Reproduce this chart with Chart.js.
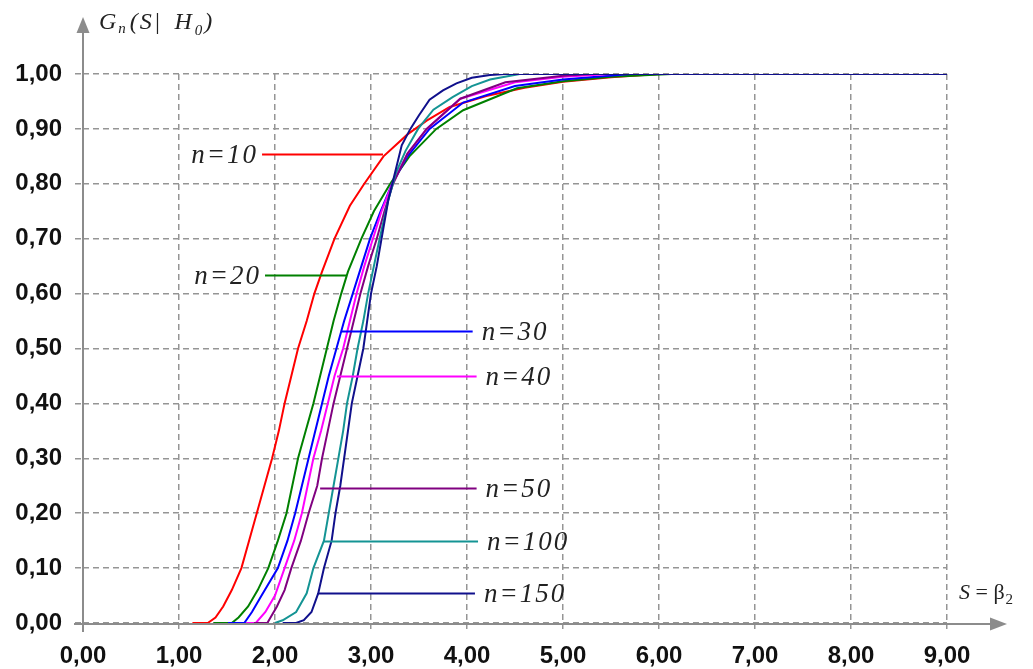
<!DOCTYPE html>
<html><head><meta charset="utf-8">
<script src="https://cdn.jsdelivr.net/npm/chart.js@4"></script>
<style>html,body{margin:0;padding:0;background:#fff;overflow:hidden}#c{display:block}</style>
</head><body>
<canvas id="c" width="1033" height="669"></canvas>
<script>
// ---- data ----
const xTicks = [0,1,2,3,4,5,6,7,8,9];
const yTicks = [0,0.1,0.2,0.3,0.4,0.5,0.6,0.7,0.8,0.9,1.0];

const n10_x = [1.14,1.30,1.38,1.46,1.55,1.65,1.73,1.81,1.89,1.97,2.04,2.10,2.17,2.24,2.33,2.41,2.49,2.62,2.78,2.93,3.13,3.38,3.58,3.82,4.20,4.60,5.00,5.50,6.00];
const n10_y = [0,0,0.01,0.03,0.06,0.10,0.15,0.20,0.25,0.30,0.35,0.40,0.45,0.50,0.55,0.60,0.64,0.70,0.76,0.80,0.85,0.89,0.915,0.94,0.96,0.975,0.986,0.994,1.0];

const n20_x = [1.36,1.55,1.62,1.72,1.82,1.93,2.03,2.12,2.18,2.24,2.32,2.40,2.47,2.54,2.61,2.69,2.76,2.90,3.03,3.20,3.40,3.68,3.96,4.52,5.00,5.50,6.13];
const n20_y = [0,0,0.01,0.03,0.06,0.10,0.15,0.20,0.25,0.30,0.35,0.40,0.45,0.50,0.55,0.60,0.64,0.70,0.75,0.80,0.85,0.90,0.934,0.974,0.987,0.995,1.0];

const n30_x = [1.51,1.68,1.76,1.86,2.03,2.13,2.21,2.28,2.35,2.42,2.49,2.56,2.64,2.72,2.81,2.90,2.99,3.10,3.22,3.38,3.61,3.96,4.50,5.00,5.70];
const n30_y = [0,0,0.02,0.05,0.10,0.15,0.20,0.25,0.30,0.35,0.40,0.45,0.50,0.55,0.60,0.65,0.70,0.75,0.80,0.85,0.90,0.948,0.978,0.990,1.0];

const n40_x = [1.70,1.80,1.90,2.00,2.10,2.20,2.28,2.34,2.40,2.48,2.55,2.62,2.71,2.78,2.85,2.93,3.02,3.11,3.22,3.38,3.58,3.93,4.50,5.00,5.50];
const n40_y = [0,0,0.02,0.05,0.10,0.15,0.20,0.25,0.30,0.35,0.40,0.45,0.50,0.55,0.60,0.65,0.70,0.75,0.80,0.855,0.90,0.955,0.985,0.995,1.0];

const n50_x = [1.78,1.92,2.02,2.10,2.17,2.27,2.35,2.44,2.49,2.55,2.61,2.68,2.75,2.82,2.89,2.97,3.06,3.14,3.23,3.38,3.58,3.93,4.40,5.00,5.30];
const n50_y = [0,0,0.03,0.06,0.10,0.15,0.20,0.25,0.30,0.35,0.40,0.45,0.50,0.55,0.60,0.65,0.70,0.75,0.80,0.855,0.90,0.955,0.985,0.997,1.0];

const n100_x = [2.00,2.08,2.22,2.33,2.40,2.51,2.56,2.61,2.66,2.71,2.75,2.81,2.86,2.92,2.97,3.03,3.09,3.18,3.26,3.36,3.49,3.65,3.85,4.05,4.24,4.55];
const n100_y = [0,0.005,0.02,0.054,0.10,0.15,0.20,0.25,0.30,0.35,0.40,0.45,0.50,0.55,0.60,0.65,0.70,0.77,0.82,0.86,0.90,0.935,0.958,0.978,0.990,1.0];

const n150_x = [2.08,2.22,2.30,2.38,2.45,2.51,2.59,2.63,2.68,2.72,2.76,2.80,2.86,2.92,2.96,3.00,3.06,3.11,3.18,3.25,3.32,3.41,3.50,3.61,3.75,3.89,4.05,4.24,4.40,9.00];
const n150_y = [0,0,0.005,0.02,0.054,0.10,0.15,0.20,0.25,0.30,0.35,0.40,0.45,0.50,0.55,0.60,0.65,0.70,0.77,0.82,0.87,0.90,0.925,0.953,0.970,0.983,0.993,0.998,1.0,1.0];

const seriesNames = ['n=10','n=20','n=30','n=40','n=50','n=100','n=150'];
const seriesColors = ['#ff0000','#008000','#0000ff','#ff00ff','#800080','#149494','#10108c'];

// label leader lines (data units): y level, from x, to x, side of text
const labelY    = [0.854,0.633,0.532,0.450,0.246,0.150,0.054];
const labelFrom = [1.865,1.896,2.695,2.646,2.470,2.500,2.448];
const labelTo   = [3.125,2.747,4.059,4.100,4.100,4.115,4.083];
const labelSide = ['left','left','right','right','right','right','right'];

// ---- chart ----
const xs = [n10_x,n20_x,n30_x,n40_x,n50_x,n100_x,n150_x];
const ys = [n10_y,n20_y,n30_y,n40_y,n50_y,n100_y,n150_y];
const fmt = v => (Math.round(v*100)/100).toFixed(2).replace('.', ',');

const datasets = seriesNames.map((name,i)=>({
  label: name,
  data: xs[i].map((x,k)=>({x:x, y:ys[i][k]})),
  borderColor: seriesColors[i],
  borderWidth: 2,
  pointRadius: 0,
  tension: 0,
  fill: false,
  order: 6 - i
}));

const AXIS = '#8c8c8c';
const decor = {
  id: 'decor',
  beforeDatasetsDraw(chart){
    const ctx = chart.ctx, xs_ = chart.scales.x, ys_ = chart.scales.y;
    const x0 = xs_.getPixelForValue(0), y0 = ys_.getPixelForValue(0) + 1;
    ctx.save();
    ctx.strokeStyle = AXIS; ctx.fillStyle = AXIS; ctx.lineWidth = 2; ctx.setLineDash([]);
    ctx.beginPath();
    ctx.moveTo(x0, y0 + 8); ctx.lineTo(x0, 26);
    ctx.moveTo(x0 - 9, y0); ctx.lineTo(996, y0);
    ctx.stroke();
    ctx.beginPath(); ctx.moveTo(x0, 17); ctx.lineTo(x0-6.5, 33); ctx.lineTo(x0+6.5, 33); ctx.closePath(); ctx.fill();
    ctx.beginPath(); ctx.moveTo(1007, y0); ctx.lineTo(990, y0-6.5); ctx.lineTo(990, y0+6.5); ctx.closePath(); ctx.fill();
    ctx.restore();
  },
  afterDatasetsDraw(chart){
    const ctx = chart.ctx, xs_ = chart.scales.x, ys_ = chart.scales.y;
    ctx.save();
    // leader lines + labels
    ctx.lineWidth = 2;
    ctx.font = 'italic 27px "Liberation Serif"';
    ctx.textBaseline = 'middle';
    try { ctx.letterSpacing = '2px'; } catch(e) {}
    for (let i=0;i<seriesNames.length;i++){
      const py = Math.round(ys_.getPixelForValue(labelY[i])) + 0.5;
      const a = xs_.getPixelForValue(labelFrom[i]), b = xs_.getPixelForValue(labelTo[i]);
      ctx.strokeStyle = seriesColors[i];
      ctx.beginPath(); ctx.moveTo(a, py); ctx.lineTo(b, py); ctx.stroke();
      ctx.fillStyle = '#222';
      if (labelSide[i]==='left'){ ctx.textAlign='right'; ctx.fillText(seriesNames[i], a-4, py+1); }
      else { ctx.textAlign='left'; ctx.fillText(seriesNames[i], b+9, py+1); }
    }

    // y-axis title  G_n(S| H_0)
    ctx.fillStyle = '#222'; ctx.textAlign='left'; ctx.textBaseline='alphabetic';
    let x = 99; const bl = 29;
    const big = 'italic 24px "Liberation Serif"', sub = 'italic 15px "Liberation Serif"';
    const put = (t, f, dy) => { ctx.font = f; ctx.fillText(t, x, bl+dy); x += ctx.measureText(t).width; };
    try { ctx.letterSpacing = '2px'; } catch(e) {}
    put('G', big, 0); put('n', sub, 4); x += 2; put('(S|', big, 0); x += 12; put('H', big, 0); x += 1; put('0', sub, 6); put(')', big, 0);

    // x-axis title  S = β2
    try { ctx.letterSpacing = '0px'; } catch(e) {}
    x = 959; const bl2 = 599;
    const put2 = (t, f, dy) => { ctx.font = f; ctx.fillText(t, x, bl2+dy); x += ctx.measureText(t).width; };
    put2('S', 'italic 22px "Liberation Serif"', 0);
    put2(' = ', '22px "Liberation Serif"', 0);
    put2('β', '22px "Liberation Serif"', 0);
    x += 1;
    put2('2', '15px "Liberation Serif"', 5);
    ctx.restore();
  }
};

const tickFont = {family: '"Liberation Sans", Arial, sans-serif', size: 24, weight: 'bold'};

new Chart(document.getElementById('c'), {
  type: 'line',
  data: { datasets },
  options: {
    responsive: false,
    animation: false,
    devicePixelRatio: 1,
    layout: { padding: { left: 0, top: 74, right: 86, bottom: 0 } },
    plugins: { legend: {display:false}, tooltip: {enabled:false}, title:{display:false} },
    scales: {
      x: {
        type: 'linear', min: 0, max: 9,
        afterBuildTicks: s => { s.ticks = xTicks.map(v=>({value:v})); },
        afterFit: s => { s.height = 46; },
        ticks: { callback: v => fmt(v), font: tickFont, color: '#111', padding: 12, maxRotation: 0, autoSkip: false },
        grid: { color: '#959595', lineWidth: 1.5, tickLength: 7, tickColor: '#959595', tickBorderDash: [6,4], drawTicks: true },
        border: { display: false, dash: [6,4] }
      },
      y: {
        type: 'linear', min: 0, max: 1,
        afterBuildTicks: s => { s.ticks = yTicks.map(v=>({value:v})); },
        afterFit: s => { s.width = 83; },
        ticks: { callback: v => fmt(v), font: tickFont, color: '#111', padding: 13, autoSkip: false },
        grid: { color: '#959595', lineWidth: 1.5, tickLength: 8, tickColor: '#959595', tickBorderDash: [6,4], drawTicks: true },
        border: { display: false, dash: [6,4] }
      }
    }
  },
  plugins: [decor]
});
</script>
</body></html>
